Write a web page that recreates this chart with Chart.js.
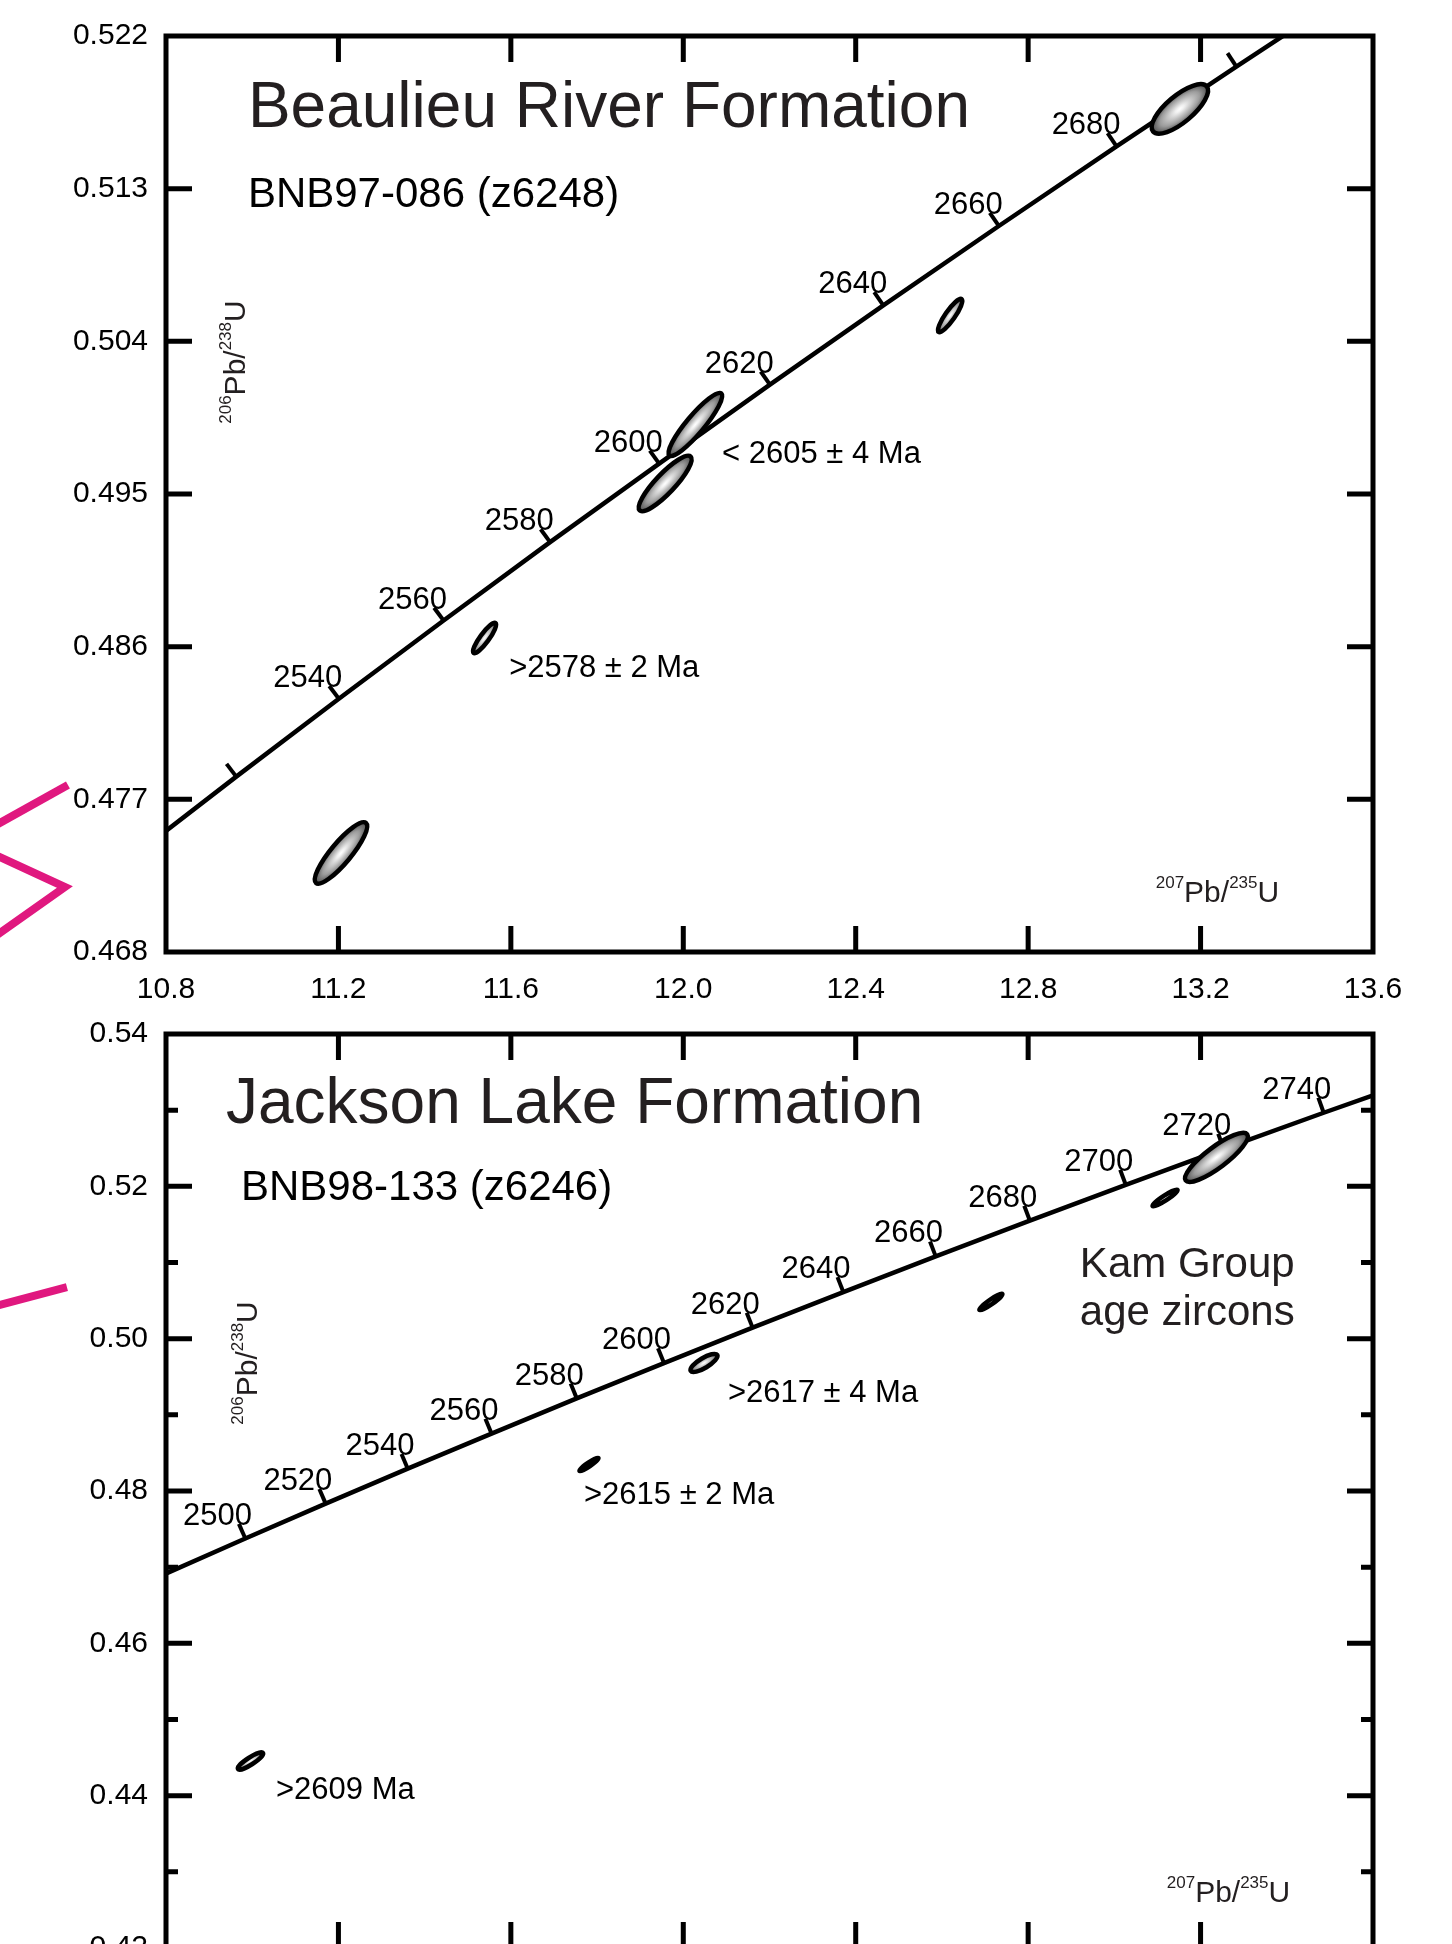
<!DOCTYPE html>
<html>
<head>
<meta charset="utf-8">
<script src="https://cdn.jsdelivr.net/npm/chart.js@4.4.1/dist/chart.umd.min.js"></script>
<style>
  html, body { margin: 0; padding: 0; background: #fff; overflow: hidden; }
  #wrap { position: relative; width: 1452px; height: 1944px; overflow: hidden; background: #fff; }
  #topChart { position: absolute; left: 0; top: 0; }
  #bottomChart { position: absolute; left: 0; top: 998px; }
</style>
</head>
<body>
<div id="wrap">
  <canvas id="topChart" width="1452" height="1000"></canvas>
  <canvas id="bottomChart" width="1452" height="1052"></canvas>
</div>
<script>
// Concordia curve (Ma)
const concAges = [2460, 2480, 2500, 2520, 2540, 2560, 2580, 2600, 2620, 2640, 2660, 2680, 2700, 2720, 2740, 2760];
const concX = [10.277, 10.501, 10.730, 10.963, 11.201, 11.444, 11.691, 11.944, 12.201, 12.464, 12.732, 13.005, 13.283, 13.567, 13.857, 14.153];
const concY = [0.46464, 0.46919, 0.47376, 0.47834, 0.48293, 0.48754, 0.49216, 0.49679, 0.50145, 0.50612, 0.51080, 0.51549, 0.52020, 0.52493, 0.52966, 0.53441];

// Beaulieu River Formation, BNB97-086
const brTickAges = [2520, 2540, 2560, 2580, 2600, 2620, 2640, 2660, 2680, 2700];
const brLabelAges = [2540, 2560, 2580, 2600, 2620, 2640, 2660, 2680];
const brXTicks = [10.8, 11.2, 11.6, 12.0, 12.4, 12.8, 13.2, 13.6];
const brYTicks = [0.468, 0.477, 0.486, 0.495, 0.504, 0.513, 0.522];
const brEllX = [11.206, 11.539, 11.958, 12.028, 12.619, 13.152];
const brEllY = [0.47384, 0.48651, 0.49562, 0.49910, 0.50552, 0.51770];
const brEllDX = [0.058, 0.0255, 0.0592, 0.0603, 0.0267, 0.0622];     // semi-major axis, x part
const brEllDY = [0.00177, 0.00088, 0.00159, 0.00183, 0.00097, 0.00133]; // semi-major axis, y part
const brEllRatio = [0.26, 0.24, 0.26, 0.22, 0.24, 0.38];              // minor / major

// Jackson Lake Formation, BNB98-133
const jlTickAges = [2500, 2520, 2540, 2560, 2580, 2600, 2620, 2640, 2660, 2680, 2700, 2720, 2740];
const jlLabelAges = jlTickAges;
const jlXTicks = [10.5, 11.0, 11.5, 12.0, 12.5, 13.0, 13.5, 14.0];
const jlYTicks = [0.42, 0.44, 0.46, 0.48, 0.50, 0.52, 0.54];
const jlYMinor = [0.43, 0.45, 0.47, 0.49, 0.51, 0.53];
const jlEllX = [10.745, 11.7265, 12.060, 12.892, 13.397, 13.546];
const jlEllY = [0.44455, 0.48348, 0.49681, 0.50482, 0.51847, 0.52380];
const jlEllDX = [0.0362, 0.0275, 0.0386, 0.0333, 0.0362, 0.0893];
const jlEllDY = [0.00105, 0.00085, 0.00105, 0.00105, 0.00105, 0.00303];
const jlEllRatio = [0.24, 0.17, 0.32, 0.17, 0.17, 0.27];

// pink marks at the left edge of the page
const pinkArmX = [10.5725, 10.3798];
const pinkArmY = [0.47785, 0.47511];
const pinkChevX = [10.3798, 10.5655, 10.3798];
const pinkChevY = [0.47401, 0.47183, 0.46850];
const pinkLowX = [10.2127, 9.9748];
const pinkLowY = [0.50678, 0.50390];

const FONT = "'Liberation Sans', Arial, Helvetica, sans-serif";
const TEXT_DARK = '#231f20';
const PINK = '#e0187f';

function pts(xs, ys) {
    return xs.map((x, i) => ({ x: x, y: ys[i] }));
}

// text with superscripts, parts = [[text, isSup], ...]
function drawRichText(ctx, parts, x, y, size, align) {
    const supSize = Math.round(size * 0.57);
    let w = 0;
    parts.forEach(p => {
        ctx.font = (p[1] ? supSize : size) + 'px ' + FONT;
        w += ctx.measureText(p[0]).width;
    });
    let cx = align === 'center' ? x - w / 2 : x;
    ctx.textAlign = 'left';
    ctx.textBaseline = 'alphabetic';
    parts.forEach(p => {
        ctx.font = (p[1] ? supSize : size) + 'px ' + FONT;
        ctx.fillText(p[0], cx, p[1] ? y - size * 0.47 : y);
        cx += ctx.measureText(p[0]).width;
    });
}

function drawEllipse(ctx, cx, cy, ex, ey, ratio) {
    const a = Math.hypot(ex, ey);
    const b = a * ratio;
    ctx.save();
    ctx.translate(cx, cy);
    ctx.rotate(Math.atan2(ey, ex));
    ctx.save();
    ctx.scale(1, b / a);
    const g = ctx.createRadialGradient(0, 0, 0, 0, 0, a);
    g.addColorStop(0, '#ffffff');
    g.addColorStop(0.15, '#f0f0f0');
    g.addColorStop(0.7, '#9c9c9c');
    g.addColorStop(1, '#4c4c4c');
    ctx.beginPath();
    ctx.arc(0, 0, a, 0, Math.PI * 2);
    ctx.fillStyle = g;
    ctx.fill();
    ctx.restore();
    ctx.beginPath();
    ctx.ellipse(0, 0, a, b, 0, 0, Math.PI * 2);
    ctx.lineWidth = 4.5;
    ctx.strokeStyle = '#000';
    ctx.stroke();
    ctx.restore();
}

const decorPlugin = {
    id: 'decor',
    afterDatasetsDraw(chart, args, opts) {
        const ctx = chart.ctx;
        const xs = chart.scales.x, ys = chart.scales.y;
        const area = chart.chartArea;
        const px = v => xs.getPixelForValue(v);
        const py = v => ys.getPixelForValue(v);

        ctx.save();
        ctx.beginPath();
        ctx.rect(area.left, area.top, area.right - area.left, area.bottom - area.top);
        ctx.clip();

        // age ticks and labels on the concordia
        ctx.strokeStyle = '#000';
        ctx.fillStyle = '#000';
        ctx.lineWidth = 4;
        ctx.font = '31px ' + FONT;
        ctx.textAlign = 'right';
        ctx.textBaseline = 'alphabetic';
        opts.tickAges.forEach(age => {
            const i = concAges.indexOf(age);
            const x0 = px(concX[i]), y0 = py(concY[i]);
            const tx = px(concX[i + 1]) - px(concX[i - 1]);
            const ty = py(concY[i + 1]) - py(concY[i - 1]);
            const len = Math.hypot(tx, ty);
            const nx = ty / len, ny = -tx / len;
            const x1 = x0 + nx * 16, y1 = y0 + ny * 16;
            ctx.beginPath();
            ctx.moveTo(x0, y0);
            ctx.lineTo(x1, y1);
            ctx.stroke();
            if (opts.labelAges.indexOf(age) >= 0) {
                ctx.fillText(String(age), x1 + 13, y1 + 1);
            }
        });

        // error ellipses
        const e = opts.ellipses;
        e.x.forEach((x, i) => {
            const cx = px(x), cy = py(e.y[i]);
            const ex = px(x + e.dx[i]) - cx;
            const ey = py(e.y[i] + e.dy[i]) - cy;
            drawEllipse(ctx, cx, cy, ex, ey, e.ratio[i]);
        });
        ctx.restore();

        // frame with inward ticks
        ctx.save();
        ctx.strokeStyle = '#000';
        ctx.lineWidth = 5;
        ctx.lineCap = 'butt';
        ctx.strokeRect(area.left, area.top, area.right - area.left, area.bottom - area.top);
        const major = 26, minor = 12;
        ctx.beginPath();
        opts.xTicks.forEach(v => {
            if (v <= xs.min || v >= xs.max) return;
            const x = px(v);
            ctx.moveTo(x, area.top); ctx.lineTo(x, area.top + major);
            ctx.moveTo(x, area.bottom); ctx.lineTo(x, area.bottom - major);
        });
        opts.yTicks.forEach(v => {
            if (v <= ys.min || v >= ys.max) return;
            const y = py(v);
            ctx.moveTo(area.left, y); ctx.lineTo(area.left + major, y);
            ctx.moveTo(area.right, y); ctx.lineTo(area.right - major, y);
        });
        (opts.yMinor || []).forEach(v => {
            const y = py(v);
            ctx.moveTo(area.left, y); ctx.lineTo(area.left + minor, y);
            ctx.moveTo(area.right, y); ctx.lineTo(area.right - minor, y);
        });
        ctx.stroke();
        ctx.restore();

        // texts
        ctx.save();
        opts.texts.forEach(t => {
            ctx.fillStyle = t.color || '#000';
            ctx.font = t.size + 'px ' + FONT;
            ctx.textAlign = 'left';
            ctx.textBaseline = 'alphabetic';
            ctx.fillText(t.text, px(t.x), py(t.y));
        });
        const axisParts = [['207', true], ['Pb/', false], ['235', true], ['U', false]];
        const yParts = [['206', true], ['Pb/', false], ['238', true], ['U', false]];
        ctx.fillStyle = TEXT_DARK;
        drawRichText(ctx, axisParts, px(opts.xTitle[0]), py(opts.xTitle[1]), 30, 'left');
        ctx.translate(px(opts.yTitle[0]), py(opts.yTitle[1]));
        ctx.rotate(-Math.PI / 2);
        drawRichText(ctx, yParts, 0, 0, 30, 'center');
        ctx.restore();
    }
};

function makeChart(canvasId, cfg) {
    const ctx = document.getElementById(canvasId);
    return new Chart(ctx, {
        type: 'scatter',
        data: {
            datasets: [
                {
                    label: 'concordia',
                    data: pts(concX, concY),
                    showLine: true,
                    borderColor: '#000',
                    borderWidth: 4.5,
                    pointRadius: 0,
                    tension: 0
                }
            ].concat(cfg.pink.map(p => ({
                label: 'pink',
                data: pts(p[0], p[1]),
                showLine: true,
                borderColor: PINK,
                borderWidth: 8,
                borderJoinStyle: 'miter',
                borderCapStyle: 'butt',
                pointRadius: 0,
                clip: false
            })))
        },
        options: {
            responsive: false,
            animation: false,
            events: [],
            devicePixelRatio: 1,
            layout: { padding: { left: 0, right: 79, top: 36, bottom: 0 } },
            plugins: {
                legend: { display: false },
                tooltip: { enabled: false },
                decor: cfg.decor
            },
            scales: {
                x: {
                    type: 'linear',
                    min: cfg.xTicks[0],
                    max: cfg.xTicks[cfg.xTicks.length - 1],
                    grid: { display: false, drawTicks: false },
                    border: { display: false },
                    afterBuildTicks: s => { s.ticks = cfg.xTicks.map(v => ({ value: v })); },
                    afterFit: s => { s.height = cfg.xHeight; },
                    ticks: {
                        font: { family: FONT, size: 30 },
                        color: '#000',
                        padding: 20,
                        maxRotation: 0,
                        autoSkip: false,
                        callback: v => Number(v).toFixed(1)
                    }
                },
                y: {
                    type: 'linear',
                    min: cfg.yTicks[0],
                    max: cfg.yTicks[cfg.yTicks.length - 1],
                    grid: { display: false, drawTicks: false },
                    border: { display: false },
                    afterBuildTicks: s => { s.ticks = cfg.yTicks.map(v => ({ value: v })); },
                    afterFit: s => { s.width = 166; },
                    ticks: {
                        font: { family: FONT, size: 30 },
                        color: '#000',
                        padding: 18,
                        autoSkip: false,
                        callback: v => Number(v).toFixed(cfg.yDigits)
                    }
                }
            }
        },
        plugins: [decorPlugin]
    });
}

makeChart('topChart', {
    xHeight: 48,
    xTicks: brXTicks,
    yTicks: brYTicks,
    yDigits: 3,
    pink: [[pinkArmX, pinkArmY], [pinkChevX, pinkChevY]],
    decor: {
        tickAges: brTickAges,
        labelAges: brLabelAges,
        xTicks: brXTicks,
        yTicks: brYTicks,
        ellipses: { x: brEllX, y: brEllY, dx: brEllDX, dy: brEllDY, ratio: brEllRatio },
        texts: [
            { text: 'Beaulieu River Formation', x: 10.990, y: 0.51664, size: 64, color: TEXT_DARK },
            { text: 'BNB97-086 (z6248)', x: 10.990, y: 0.51192, size: 42 },
            { text: '< 2605 ± 4 Ma', x: 12.090, y: 0.49683, size: 31 },
            { text: '>2578 ± 2 Ma', x: 11.596, y: 0.48421, size: 31 }
        ],
        xTitle: [13.096, 0.47095],
        yTitle: [10.983, 0.50278]
    }
});

makeChart('bottomChart', {
    xHeight: 102,
    xTicks: jlXTicks,
    yTicks: jlYTicks,
    yDigits: 2,
    pink: [[pinkLowX, pinkLowY]],
    decor: {
        tickAges: jlTickAges,
        labelAges: jlLabelAges,
        xTicks: jlXTicks,
        yTicks: jlYTicks,
        yMinor: jlYMinor,
        ellipses: { x: jlEllX, y: jlEllY, dx: jlEllDX, dy: jlEllDY, ratio: jlEllRatio },
        texts: [
            { text: 'Jackson Lake Formation', x: 10.674, y: 0.52832, size: 64, color: TEXT_DARK },
            { text: 'BNB98-133 (z6246)', x: 10.7175, y: 0.51821, size: 42 },
            { text: 'Kam Group', x: 13.150, y: 0.50810, size: 42, color: TEXT_DARK },
            { text: 'age zircons', x: 13.150, y: 0.50180, size: 42, color: TEXT_DARK },
            { text: '>2617 ± 4 Ma', x: 12.1295, y: 0.49169, size: 31 },
            { text: '>2615 ± 2 Ma', x: 11.712, y: 0.47830, size: 31 },
            { text: '>2609 Ma', x: 10.819, y: 0.43957, size: 31 }
        ],
        xTitle: [13.402, 0.42604],
        yTitle: [10.764, 0.49681]
    }
});
</script>
</body>
</html>
